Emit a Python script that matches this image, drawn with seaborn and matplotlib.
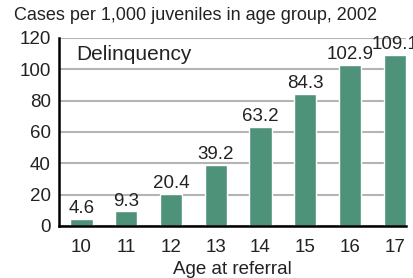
import matplotlib
matplotlib.use("Agg")
import matplotlib.pyplot as plt
import seaborn as sns
import pandas as pd
from matplotlib.ticker import FixedLocator

ages = ["10", "11", "12", "13", "14", "15", "16", "17"]
rates = [4.6, 9.3, 20.4, 39.2, 63.2, 84.3, 102.9, 109.1]
labels = ["4.6", "9.3", "20.4", "39.2", "63.2", "84.3", "102.9", "109.1"]
yticks = [0, 20, 40, 60, 80, 100, 120]

sns.set_style("white")
plt.rcParams['font.family'] = ['Liberation Sans', 'DejaVu Sans']

df = pd.DataFrame({"age": ages, "rate": rates})

fig = plt.figure(figsize=(4.13, 2.78), dpi=100)
ax = fig.add_axes([59/413, 1-226/278, (406-59)/413, (226-38)/278])

sns.barplot(data=df, x="age", y="rate", color="#4F927A", width=0.5,
            saturation=1, ax=ax, zorder=3)

ax.set_ylim(0, 120)
ax.set_xlim(-0.5, 7.25)
ax.set_yticks(yticks)
ax.yaxis.grid(True, color="#b4b4b4", linewidth=1.5, zorder=0)
ax.set_axisbelow(True)

for s in ["top", "right"]:
    ax.spines[s].set_visible(False)
for s in ["left", "bottom"]:
    ax.spines[s].set_color("black")
    ax.spines[s].set_linewidth(1.8)
    ax.spines[s].set_zorder(4)

fs = 13.5
ax.tick_params(axis="y", length=3, width=1.5, color="black", labelsize=fs, pad=3,
               labelcolor="#222222")
ax.tick_params(axis="x", length=0, labelsize=fs, pad=9, labelcolor="#222222")
ax.xaxis.set_minor_locator(FixedLocator([i - 0.5 for i in range(8)]))
ax.tick_params(axis="x", which="minor", length=4, width=1.5, color="black", direction="out")

for i, (v, t) in enumerate(zip(rates, labels)):
    ax.text(i, v + 1.2, t, ha="center", va="bottom", fontsize=fs, color="#222222")

ax.set_xlabel("Age at referral", fontsize=fs, labelpad=4, color="#222222")
ax.set_ylabel("")
ax.text(76/413, 1-54/278, "Delinquency", transform=fig.transFigure, fontsize=15,
        ha="left", va="center", color="#222222")
fig.text(14/413, 1-15/278, "Cases per 1,000 juveniles in age group, 2002",
         fontsize=13, ha="left", va="center", color="#222222")

fig.savefig("out.png", dpi=100)
